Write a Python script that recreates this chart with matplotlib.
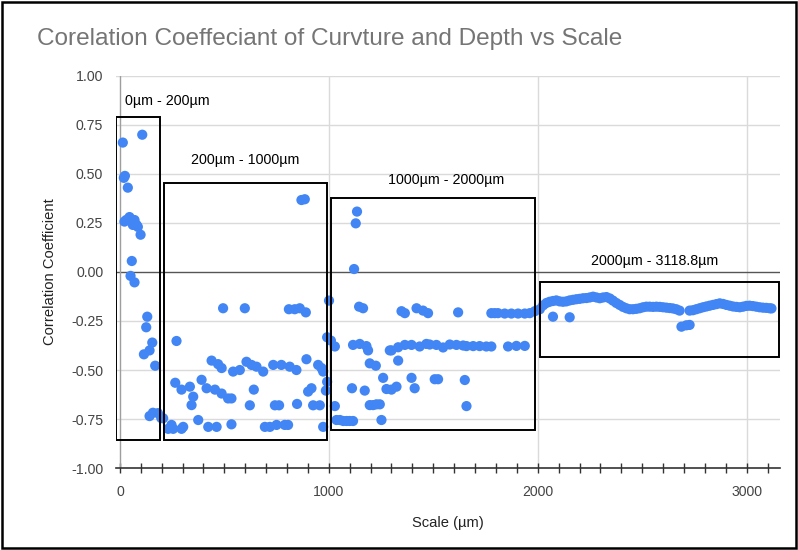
import matplotlib.pyplot as plt
from matplotlib.patches import Rectangle
from matplotlib.ticker import MultipleLocator

plt.rcParams['font.family'] = ['Liberation Sans', 'DejaVu Sans']

# 0 - 200 um
scale_a = [14, 107, 19, 24, 38, 22, 30, 46, 62, 70, 86, 99, 80, 57, 51, 70,
           131, 126, 155, 142, 115, 169, 158, 142, 182, 198]
corr_a = [0.66, 0.70, 0.48, 0.49, 0.43, 0.257, 0.265, 0.28, 0.24, 0.265, 0.23, 0.19, 0.24,
          0.056, -0.02, -0.053, -0.228, -0.282, -0.36, -0.40, -0.42, -0.478,
          -0.718, -0.735, -0.72, -0.745]

# 200 - 1000 um
scale_b = [271, 265, 295, 335, 343, 351, 247, 231, 207, 255, 295, 303, 375, 391,
           415, 455, 487, 518, 534, 439, 470, 487, 423, 463, 534, 494, 598, 542,
           574, 606, 630, 654, 686, 641, 622, 694, 718, 750, 789, 805, 734, 773,
           813, 845, 742, 762, 848, 809, 837, 861, 890, 893, 901, 917, 925, 957,
           949, 965, 973, 869, 885, 973, 992, 1001, 992, 986, 1010]
corr_b = [-0.352, -0.565, -0.60, -0.585, -0.679, -0.636, -0.78, -0.80, -0.746,
          -0.80, -0.80, -0.79, -0.755, -0.55, -0.593, -0.60, -0.62, -0.645,
          -0.645, -0.452, -0.47, -0.49, -0.79, -0.79, -0.777, -0.185, -0.185,
          -0.508, -0.50, -0.458, -0.474, -0.483, -0.508, -0.60, -0.68, -0.79,
          -0.79, -0.78, -0.78, -0.78, -0.474, -0.474, -0.483, -0.50, -0.68,
          -0.68, -0.673, -0.19, -0.19, -0.185, -0.206, -0.445, -0.61, -0.593,
          -0.68, -0.68, -0.474, -0.49, -0.508, 0.367, 0.371, -0.79, -0.333,
          -0.146, -0.56, -0.605, -0.35]

# 1000 - 2000 um
scale_c = [1029, 1029, 1037, 1053, 1069, 1085, 1100, 1116, 1135, 1129, 1121,
           1145, 1164, 1348, 1364, 1420, 1451, 1475, 1116, 1148, 1180, 1188,
           1292, 1300, 1332, 1364, 1396, 1435, 1467, 1483, 1515, 1547, 1579,
           1611, 1643, 1659, 1691, 1722, 1754, 1778, 1858, 1898, 1938, 1196,
           1225, 1332, 1260, 1276, 1300, 1324, 1396, 1411, 1111, 1172, 1196,
           1212, 1228, 1244, 1252, 1507, 1523, 1651, 1659, 1619, 1778, 1794,
           1810, 1842, 1874, 1906, 1938, 1962, 1986]
corr_c = [-0.38, -0.684, -0.755, -0.755, -0.76, -0.76, -0.76, -0.76, 0.308,
          0.248, 0.015, -0.177, -0.185, -0.20, -0.21, -0.185, -0.197, -0.21,
          -0.372, -0.367, -0.378, -0.40, -0.40, -0.40, -0.384, -0.372, -0.372,
          -0.38, -0.367, -0.37, -0.372, -0.385, -0.37, -0.372, -0.375, -0.378,
          -0.378, -0.378, -0.38, -0.38, -0.38, -0.377, -0.377, -0.466, -0.478,
          -0.452, -0.54, -0.597, -0.60, -0.585, -0.54, -0.593, -0.593, -0.605,
          -0.679, -0.679, -0.675, -0.675, -0.755, -0.547, -0.547, -0.551,
          -0.684, -0.206, -0.21, -0.21, -0.21, -0.212, -0.212, -0.212, -0.212,
          -0.21, -0.20]

# 2000 - 3118.8 um
scale_d = [2010, 2026, 2042, 2057, 2073, 2089, 2105, 2121, 2137, 2153, 2169,
           2185, 2201, 2217, 2233, 2249, 2265, 2281, 2297, 2313, 2329, 2345,
           2360, 2376, 2392, 2408, 2424, 2440, 2456, 2472, 2488, 2504, 2520,
           2536, 2552, 2568, 2584, 2600, 2616, 2632, 2647, 2663, 2679, 2727,
           2743, 2759, 2775, 2791, 2807, 2823, 2839, 2855, 2871, 2887, 2903,
           2919, 2935, 2951, 2967, 2983, 2999, 3014, 3030, 3046, 3062, 3078,
           3094, 3110, 3118.8, 2073, 2153, 2688, 2711, 2727]
corr_d = [-0.19, -0.17, -0.158, -0.152, -0.148, -0.145, -0.15, -0.152, -0.15,
          -0.145, -0.142, -0.139, -0.137, -0.134, -0.133, -0.13, -0.126, -0.13,
          -0.134, -0.13, -0.128, -0.135, -0.146, -0.158, -0.168, -0.178, -0.185,
          -0.19, -0.19, -0.188, -0.185, -0.18, -0.177, -0.177, -0.178, -0.177,
          -0.178, -0.18, -0.182, -0.184, -0.186, -0.19, -0.197, -0.197, -0.195,
          -0.19, -0.185, -0.18, -0.176, -0.172, -0.168, -0.164, -0.16, -0.163,
          -0.168, -0.172, -0.176, -0.178, -0.18, -0.177, -0.173, -0.172, -0.174,
          -0.177, -0.18, -0.182, -0.183, -0.185, -0.186, -0.228, -0.231, -0.279,
          -0.272, -0.27]

# range boxes: (x0, x1, y0, y1) and their captions
ranges = [(-20, 190, -0.857, 0.79), (210, 990, -0.857, 0.454),
          (1010, 1985, -0.806, 0.378), (2010, 3153, -0.434, -0.05)]
range_labels = ['0µm - 200µm', '200µm - 1000µm', '1000µm - 2000µm',
                '2000µm - 3118.8µm']

fig = plt.figure(figsize=(7.98, 5.5), dpi=100)
ax = fig.add_axes([0.145, 0.149, 0.832, 0.713])

ax.set_xlim(-20, 3158)
ax.set_ylim(-1, 1)

for sx, sy in [(scale_a, corr_a), (scale_b, corr_b), (scale_c, corr_c), (scale_d, corr_d)]:
    ax.scatter(sx, sy, s=54, color='#4285f4', edgecolors='none', zorder=3)

for (x0, x1, y0, y1) in ranges:
    ax.add_patch(Rectangle((x0, y0), x1 - x0, y1 - y0, fill=False,
                           edgecolor='black', lw=1.4, zorder=4))

ax.text(24, 0.87, range_labels[0], fontsize=10.3, ha='left', va='center')
ax.text(598, 0.57, range_labels[1], fontsize=10.3, ha='center', va='center')
ax.text(1560, 0.47, range_labels[2], fontsize=10.3, ha='center', va='center')
ax.text(2560, 0.055, range_labels[3], fontsize=10.3, ha='center', va='center')

# grid
for yv in [-0.75, -0.5, -0.25, 0.25, 0.5, 0.75, 1.0]:
    ax.axhline(yv, color='#dadada', lw=1, zorder=1)
for xv in [1000, 2000, 3000]:
    ax.axvline(xv, color='#dadada', lw=1, zorder=1)
ax.axhline(0, color='#555555', lw=1, zorder=2)
ax.axvline(0, color='#9e9e9e', lw=1, zorder=2)

for side in ['top', 'right', 'left']:
    ax.spines[side].set_visible(False)
ax.spines['bottom'].set_color('#333333')
ax.spines['bottom'].set_linewidth(1.2)

ax.set_yticks([-1, -0.75, -0.5, -0.25, 0, 0.25, 0.5, 0.75, 1.0])
ax.set_yticklabels(['-1.00', '-0.75', '-0.50', '-0.25', '0.00', '0.25', '0.50', '0.75', '1.00'])
ax.tick_params(axis='y', length=0, pad=9, labelsize=10.2, labelcolor='#444444')

ax.set_xticks([0, 1000, 2000, 3000])
ax.xaxis.set_minor_locator(MultipleLocator(100))
ax.tick_params(axis='x', which='both', direction='inout', length=7, width=1,
               color='#333333', labelsize=10.2, labelcolor='#444444', pad=9)

ax.set_xlabel('Scale (µm)', fontsize=10.6, color='#222222', labelpad=12)
ax.set_ylabel('Correlation Coefficient', fontsize=10.6, color='#222222', labelpad=10)

fig.text(0.046, 0.93, 'Corelation Coeffeciant of Curvture and Depth vs Scale',
         fontsize=17.6, color='#757575', ha='left', va='center')

fig.patches.append(Rectangle((0.003, 0.004), 0.994, 0.992, transform=fig.transFigure,
                             fill=False, edgecolor='black', lw=1.8))

fig.savefig('out.png', dpi=100)
